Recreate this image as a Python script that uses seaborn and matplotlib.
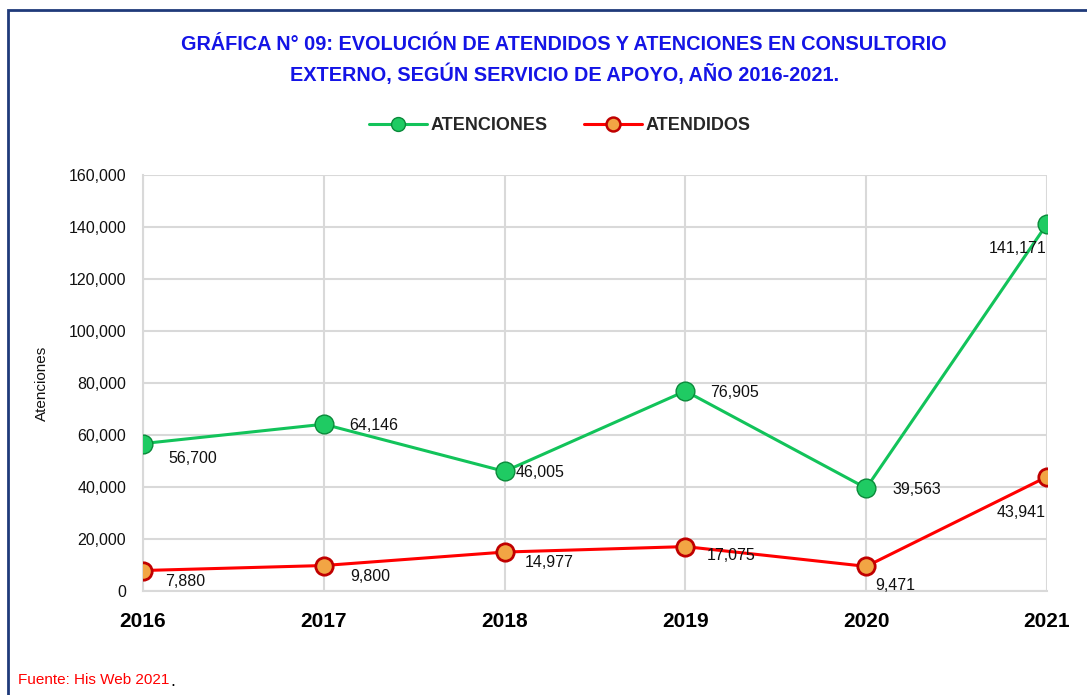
import matplotlib
matplotlib.use("Agg")
import matplotlib.pyplot as plt
from matplotlib.lines import Line2D
from matplotlib.patches import Rectangle
import seaborn as sns
import pandas as pd

# Data
years = [2016, 2017, 2018, 2019, 2020, 2021]
atenciones = [56700, 64146, 46005, 76905, 39563, 141171]
atendidos = [7880, 9800, 14977, 17075, 9471, 43941]

# label offsets (pixels) relative to each point: (dx, dy, ha)
aten_offsets = [(25, -15, "left"), (25, -1, "left"), (11, -1, "left"),
                (25, -1, "left"), (26, -1, "left"), (-1, -25, "right")]
atnd_offsets = [(22, -11, "left"), (26, -11, "left"), (20, -10, "left"),
                (21, -9, "left"), (9, -19, "left"), (-1, -36, "right")]

sns.set_theme(style="whitegrid")
plt.rcParams["font.family"] = ["Liberation Sans", "DejaVu Sans"]

fig = plt.figure(figsize=(10.87, 6.95), dpi=100)
ax = fig.add_axes([143 / 1087, 1 - 591 / 695, (1047 - 143) / 1087, (591 - 175) / 695])

df = pd.DataFrame({"year": years, "ATENCIONES": atenciones, "ATENDIDOS": atendidos})

green_line, green_face, green_edge = "#12C35A", "#1FCB63", "#0A8A3A"
red_line, red_face, red_edge = "#FF0000", "#F2A544", "#C00000"

sns.lineplot(data=df, x="year", y="ATENCIONES", ax=ax, color=green_line, lw=2.2,
             marker="o", markersize=13.5, markerfacecolor=green_face,
             markeredgecolor=green_edge, markeredgewidth=1.0, zorder=3)
sns.lineplot(data=df, x="year", y="ATENDIDOS", ax=ax, color=red_line, lw=2.2,
             marker="o", markersize=12.5, markerfacecolor=red_face,
             markeredgecolor=red_edge, markeredgewidth=2.0, zorder=3)

for x, y, (dx, dy, ha) in zip(years, atenciones, aten_offsets):
    ax.annotate(f"{y:,}", (x, y), xytext=(dx, dy), textcoords="offset pixels",
                ha=ha, va="center", fontsize=11.5, color="#111111", zorder=5)
for x, y, (dx, dy, ha) in zip(years, atendidos, atnd_offsets):
    ax.annotate(f"{y:,}", (x, y), xytext=(dx, dy), textcoords="offset pixels",
                ha=ha, va="center", fontsize=11.5, color="#111111", zorder=5)

ax.set_xlim(2016, 2021)
ax.set_ylim(0, 160000)
ax.set_xticks(years)
ax.set_xticklabels([str(y) for y in years], fontsize=15, fontweight="bold", color="black")
ax.set_yticks(range(0, 160001, 20000))
ax.set_yticklabels([f"{v:,}" for v in range(0, 160001, 20000)], fontsize=11.5, color="#111111")
ax.tick_params(axis="x", pad=15, length=0)
ax.tick_params(axis="y", pad=12, length=0)
ax.set_xlabel("")
ax.set_ylabel("Atenciones", fontsize=11, color="#111111", labelpad=14)
ax.grid(True, color="#D9D9D9", lw=1.5)
ax.set_facecolor("white")
for side in ["top", "right"]:
    ax.spines[side].set_visible(False)
for side in ["left", "bottom"]:
    ax.spines[side].set_color("#D9D9D9")
    ax.spines[side].set_linewidth(1.5)

fig.text(0.519, 1 - 45 / 695, "GRÁFICA N° 09: EVOLUCIÓN DE ATENDIDOS Y ATENCIONES EN CONSULTORIO",
         ha="center", va="center", fontsize=14.3, fontweight="bold", color="#1414E6")
fig.text(0.519, 1 - 74 / 695, "EXTERNO, SEGÚN SERVICIO DE APOYO, AÑO 2016-2021.",
         ha="center", va="center", fontsize=14.3, fontweight="bold", color="#1414E6")

handles = [
    Line2D([], [], color=green_line, lw=2.2, marker="o", markersize=10,
           markerfacecolor=green_face, markeredgecolor=green_edge),
    Line2D([], [], color=red_line, lw=2.2, marker="o", markersize=10,
           markerfacecolor=red_face, markeredgecolor=red_edge, markeredgewidth=1.8),
]
fig.legend(handles, ["ATENCIONES", "ATENDIDOS"], loc="center",
           bbox_to_anchor=(0.515, 1 - 126 / 695), ncol=2, frameon=False,
           prop={"weight": "bold", "size": 13}, handlelength=3.2,
           handletextpad=0.2, columnspacing=2.0)

# outer frame (left and top edges visible)
fig.add_artist(Rectangle((8 / 1087, -0.1), 1.2, 1 - 10 / 695 + 0.1, transform=fig.transFigure,
                         fill=False, edgecolor="#1F3A7A", lw=2.0))

fig.text(18 / 1087, 1 - 680 / 695, "Fuente: His Web 2021", ha="left", va="center",
         fontsize=11, color="#FF0000")
fig.text(170 / 1087, 1 - 682 / 695, ".", ha="left", va="center", fontsize=13, color="black")

fig.savefig("out.png", dpi=100)
